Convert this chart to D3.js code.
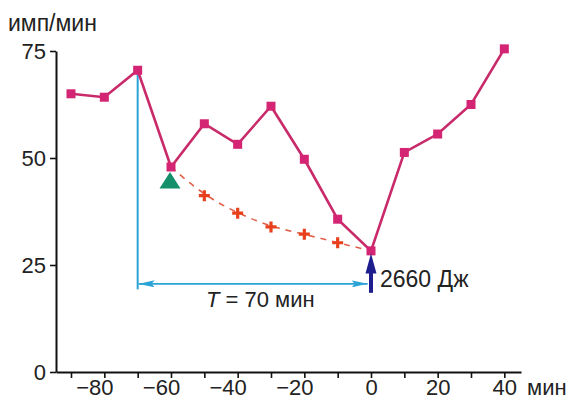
<!DOCTYPE html>
<html>
<head>
<meta charset="utf-8">
<script src="https://cdn.jsdelivr.net/npm/d3@7"></script>
<style>
  body { margin: 0; background: #fff; }
  svg text { font-family: "Liberation Sans", Arial, sans-serif; fill: #222; }
</style>
</head>
<body>
<div id="chart"></div>
<script>
// pulse series (imp/min)
var minutes = [-90, -80, -70, -60, -50, -40, -30, -20, -10, 0, 10, 20, 30, 40];
var pulse = [65.0, 64.2, 70.5, 47.9, 58.0, 53.2, 62.1, 49.7, 35.7, 28.3, 51.3, 55.6, 62.5, 75.5];
// expected recovery (crosses)
var crossMinutes = [-50, -40, -30, -20, -10];
var crossValues = [41.2, 37.1, 33.9, 32.2, 30.2];
var xTicks = [-90, -80, -70, -60, -50, -40, -30, -20, -10, 0, 10, 20, 30, 40];
var xLabels = [-80, -60, -40, -20, 0, 20, 40];
var yTicks = [0, 25, 50, 75];

var W = 573, H = 400;
var svg = d3.select('#chart').append('svg').attr('width', W).attr('height', H);

var x = d3.scaleLinear().domain([-94.5, 45]).range([56, 521]);
var y = d3.scaleLinear().domain([0, 75]).range([372, 51]);

var defs = svg.append('defs');
function head(id, color, w, h){
  defs.append('marker').attr('id', id)
    .attr('viewBox', '0 0 ' + w + ' ' + h)
    .attr('refX', w).attr('refY', h/2)
    .attr('markerUnits', 'userSpaceOnUse')
    .attr('markerWidth', w).attr('markerHeight', h)
    .attr('orient', 'auto-start-reverse')
    .append('path').attr('d', 'M0,0L' + w + ',' + h/2 + 'L0,' + h + 'L3,' + h/2 + 'Z')
    .attr('fill', color);
}
head('blueHead', '#2ba3d6', 16, 7);

// axes
var xAxis = d3.axisBottom(x).tickValues(xTicks).tickSizeInner(6).tickSizeOuter(0).tickPadding(2)
  .tickFormat(function(d){ return xLabels.indexOf(d) >= 0 ? (d < 0 ? '\u2212' + Math.abs(d) : d) : ''; });
var gx = svg.append('g').attr('transform', 'translate(0,' + y(0) + ')').call(xAxis);
gx.selectAll('text').attr('font-size', 22).attr('dy', '0.68em')
  .attr('dx', function(d){ return d < 0 ? -10 : 0; })
  .attr('font-family', '"Liberation Sans", Arial, sans-serif');
gx.select('.domain').attr('stroke', '#111').attr('stroke-width', 2);
gx.selectAll('.tick line').attr('stroke', '#111').attr('stroke-width', 1.6);

var yAxis = d3.axisLeft(y).tickValues(yTicks).tickSizeInner(6).tickSizeOuter(0).tickPadding(4);
var gy = svg.append('g').attr('transform', 'translate(' + x.range()[0] + ',0)').call(yAxis);
gy.selectAll('text').attr('font-size', 22).attr('dy', '0.36em')
  .attr('font-family', '"Liberation Sans", Arial, sans-serif');
gy.select('.domain').attr('stroke', '#111').attr('stroke-width', 2);
gy.selectAll('.tick line').attr('stroke', '#111').attr('stroke-width', 1.6);

svg.append('text').attr('x', 8).attr('y', 31).attr('font-size', 23).text('имп/мин');
svg.append('text').attr('x', 527).attr('y', 395).attr('font-size', 22).text('мин');

// T = 70 interval
svg.append('line')
  .attr('x1', x(-70)).attr('x2', x(-70))
  .attr('y1', y(70.5)).attr('y2', y(19.3))
  .attr('stroke', '#2ba3d6').attr('stroke-width', 2);
svg.append('line')
  .attr('x1', x(-70) + 1).attr('x2', x(-1))
  .attr('y1', y(20.6)).attr('y2', y(20.6))
  .attr('stroke', '#2ba3d6').attr('stroke-width', 1.8)
  .attr('marker-start', 'url(#blueHead)').attr('marker-end', 'url(#blueHead)');
var tl = svg.append('text').attr('x', x(-49.5)).attr('y', 307).attr('font-size', 22);
tl.append('tspan').attr('font-style', 'italic').text('T');
tl.append('tspan').text(' = 70 мин');

// expected recovery curve
var dashData = [[-60, 47.9]].concat(crossMinutes.map(function(m, i){ return [m, crossValues[i]]; }), [[0, 28.3]]);
svg.append('path').datum(dashData)
  .attr('d', d3.line().x(function(d){ return x(d[0]); }).y(function(d){ return y(d[1]); }).curve(d3.curveBasis))
  .attr('fill', 'none').attr('stroke', '#e0604a').attr('stroke-width', 1.6)
  .attr('stroke-dasharray', '6,6');

// main pulse line
svg.append('path').datum(minutes)
  .attr('d', d3.line().x(function(d){ return x(d); }).y(function(d, i){ return y(pulse[i]); }))
  .attr('fill', 'none').attr('stroke', '#c82a6a').attr('stroke-width', 2.6);
svg.selectAll('rect.pt').data(minutes).enter().append('rect').attr('class', 'pt')
  .attr('x', function(d){ return x(d) - 4.5; })
  .attr('y', function(d, i){ return y(pulse[i]) - 4.5; })
  .attr('width', 9).attr('height', 9)
  .attr('fill', '#d42574');

// crosses
svg.selectAll('path.cross').data(crossMinutes).enter().append('path').attr('class', 'cross')
  .attr('transform', function(d, i){ return 'translate(' + x(d) + ',' + y(crossValues[i]) + ')'; })
  .attr('d', 'M-5.5,0H5.5M0,-5.5V5.5')
  .attr('stroke', '#e8401c').attr('stroke-width', 3.2);

// start marker
svg.append('path')
  .attr('transform', 'translate(' + x(-60.3) + ',' + y(44.6) + ')')
  .attr('d', 'M0,-9L10.5,7.5L-10.5,7.5Z')
  .attr('fill', '#16906a');

// energy arrow
svg.append('line')
  .attr('x1', x(0)).attr('x2', x(0))
  .attr('y1', y(18.5)).attr('y2', y(23.5))
  .attr('stroke', '#1d1d8e').attr('stroke-width', 4);
svg.append('path')
  .attr('d', 'M' + x(0) + ',' + y(27.7) + 'L' + (x(0) + 5.5) + ',' + y(23) + 'L' + (x(0) - 5.5) + ',' + y(23) + 'Z')
  .attr('fill', '#1d1d8e');
svg.append('text').attr('x', 380).attr('y', 287).attr('font-size', 23).text('2660 Дж');
</script>
</body>
</html>
